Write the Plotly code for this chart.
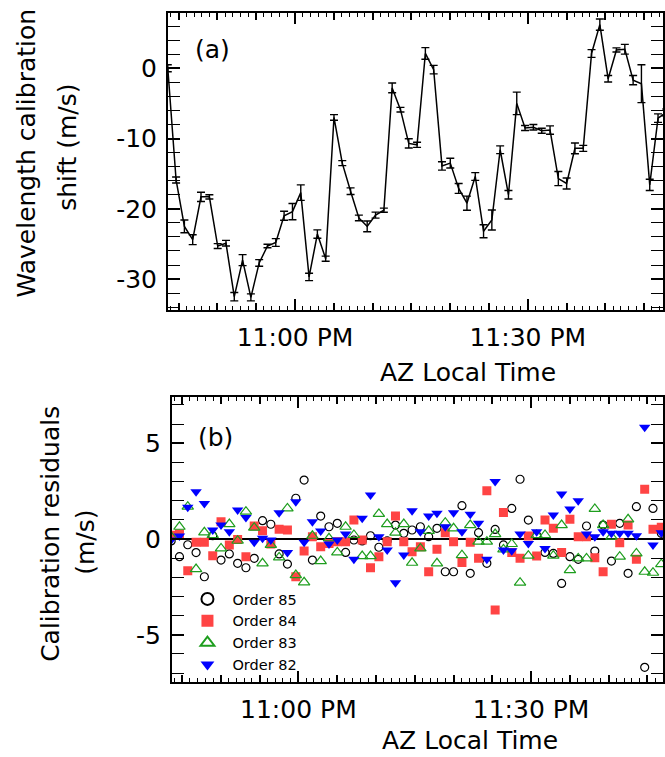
import plotly.graph_objects as go

# ---------------- data ----------------
# observation times, minutes after 10:00 PM (AZ local time)
times = [43.60, 44.67, 45.74, 46.81, 47.88, 48.96, 50.03, 51.10, 52.17, 53.24,
         54.31, 55.38, 56.45, 57.52, 58.59, 59.67, 60.74, 61.81, 62.88, 63.95,
         65.02, 66.09, 67.16, 68.23, 69.30, 70.38, 71.45, 72.52, 73.59, 74.66,
         75.73, 76.80, 77.87, 78.94, 80.01, 81.09, 82.16, 83.23, 84.30, 85.37,
         86.44, 87.51, 88.58, 89.65, 90.72, 91.80, 92.87, 93.94, 95.01, 96.08,
         97.15, 98.22, 99.29, 100.36, 101.43, 102.51, 103.58, 104.65, 105.72, 106.79,
         107.86]

# (a) wavelength calibration shift (m/s) and its uncertainty
shift = [0.0, -15.9, -22.5, -24.4, -18.3, -18.3, -25.3, -24.9, -32.5, -27.3,
         -32.6, -27.7, -25.3, -24.8, -21.0, -20.4, -17.7, -29.7, -23.6, -27.1,
         -7.0, -13.5, -17.5, -21.3, -22.5, -20.9, -20.2, -2.8, -5.9, -10.7,
         -10.9, 2.1, -0.2, -13.9, -13.5, -17.1, -19.2, -15.4, -23.2, -21.6,
         -11.6, -18.0, -5.0, -8.5, -8.4, -8.9, -8.8, -15.7, -16.4, -11.4,
         -11.4, 2.1, 6.2, -1.5, 2.6, 2.7, -1.7, -2.2, -16.6, -7.1,
         -6.3]
shift_err = [0.5, 0.43, 0.9, 0.7, 0.66, 0.3, 0.35, 0.4, 0.6, 0.78,
             0.5, 0.47, 0.25, 0.55, 0.64, 1.16, 1.1, 0.52, 0.6, 0.36,
             0.4, 0.36, 0.47, 0.4, 0.76, 0.43, 0.3, 0.7, 0.33, 0.66,
             0.36, 0.83, 0.6, 0.6, 0.7, 0.7, 1.0, 0.55, 0.93, 1.42,
             0.55, 0.6, 1.6, 0.36, 0.4, 0.36, 0.6, 1.0, 0.78, 0.76,
             0.43, 0.55, 0.8, 0.47, 0.3, 0.7, 0.66, 2.7, 0.8, 0.6,
             0.5]

# (b) calibration residuals (m/s) per echelle order
order85 = [-0.1, -0.92, -0.3, -0.71, -1.97, 0.17, -1.1, -0.78, -1.27, -1.5,
           -1.01, 0.96, 0.77, -0.78, -1.31, 2.13, 3.08, -1.1, 1.2, 0.64,
           0.82, -0.7, -0.05, -0.1, 0.17, -0.43, -0.1, 0.73, 0.3, 0.47,
           0.64, 0.12, 0.56, -1.71, -1.71, 1.74, -1.79, 0.33, -1.27, 0.5,
           -0.31, 1.6, 3.12, 0.99, 0.2, -0.7, -0.75, -2.32, -0.92, -1.06,
           0.68, -0.63, 0.73, -1.15, 0.82, -1.79, 1.69, -6.7, 1.6, 0.3]
order84 = [0.2, 0.26, -1.66, -0.17, -0.17, -0.87, 0.9, -0.31, -0.02, -0.92,
           0.68, 0.43, -0.26, 0.51, 0.47, -1.97, -0.63, 0.12, -0.4, -0.23,
           -0.14, -0.14, 0.99, -0.05, -1.5, -0.92, -0.14, 1.2, -0.14, -0.66,
           -0.4, -1.71, -0.54, 0.33, -0.14, -1.22, -0.17, -1.01, 2.52, -3.7,
           1.39, -0.7, -1.01, 0.16, -0.89, 0.99, 0.56, -0.7, 1.03, 0.12,
           0.12, -0.98, -1.71, 0.77, -0.19, 0.73, -1.06, 2.6, 0.51, 0.61]
order83 = [0.12, 0.64, 1.69, -1.57, 0.35, 0.21, -0.49, 0.78, -0.09, 1.43,
           0.59, -1.27, -0.31, -0.96, 1.6, -1.88, -2.26, 0.17, -1.15, 0.04,
           -0.7, 0.64, 0.21, -0.89, -0.89, 1.31, 0.78, 0.33, 0.78, -1.24,
           -0.49, 0.43, -1.27, 0.85, 0.56, -0.84, 0.73, -0.14, -0.14, 0.26,
           -0.54, -0.26, -2.28, -0.87, 0.21, 0.21, -0.87, 0.73, -1.62, -1.01,
           -1.01, 1.57, 0.73, 0.12, -0.92, 1.03, -0.75, -1.71, -1.76, -1.31]
order82 = [-0.05, 0.16, 1.66, 2.47, 1.86, 0.47, 0.73, 0.38, 1.52, 1.13,
           -0.17, 0.04, -0.05, 1.37, -0.7, 1.95, -0.17, 0.9, 0.42, -0.26,
           -0.05, 0.26, -1.06, 1.08, 2.3, 0.12, -0.57, -2.28, -0.84, 1.48,
           0.38, 1.2, 1.34, 0.64, 1.37, 0.38, 1.29, 0.82, -1.06, 3.0,
           -0.57, -0.61, 0.26, -0.23, 0.38, -0.49, 1.25, 2.35, 1.57, 2.0,
           0.26, 0.12, 0.38, 0.3, 0.3, 0.3, 0.17, 5.84, -0.31, 0.33]

order_names = ["Order 85", "Order 84", "Order 83", "Order 82"]

xtick_vals = [60, 90]
xtick_text = ["11:00 PM", "11:30 PM"]
ya_tick_vals = [-30, -20, -10, 0]
ya_tick_text = ["-30", "-20", "-10", "0"]
yb_tick_vals = [-5, 0, 5]
yb_tick_text = ["-5", "0", "5"]
mid_tick_vals = [45, 50, 55, 65, 70, 75, 80, 85, 95, 100, 105]

# ---------------- figure ----------------
FONT = "DejaVu Sans"
W, H = 665, 757

fig = go.Figure()

fig.add_trace(go.Scatter(
    x=times, y=shift, mode="lines",
    line=dict(color="black", width=1.5),
    error_y=dict(type="data", array=shift_err, visible=True,
                 color="black", thickness=1.4, width=4),
    showlegend=False, xaxis="x", yaxis="y"))

n = len(order85)
styles = [
    dict(symbol="circle-open", size=8, color="black", line=dict(width=1.2, color="black")),
    dict(symbol="square", size=9, color="#FF4444", line=dict(width=0)),
    dict(symbol="triangle-up-open", size=10, color="#1E9E1E", line=dict(width=1.2, color="#1E9E1E")),
    dict(symbol="triangle-down", size=10, color="#0000FF", line=dict(width=0)),
]
for name, vals, st in zip(order_names, [order85, order84, order83, order82], styles):
    fig.add_trace(go.Scatter(
        x=times[:n], y=vals, mode="markers", name=name,
        marker=st, xaxis="x2", yaxis="y2"))

# empty helper traces so the 5-minute tick axes are drawn
fig.add_trace(go.Scatter(x=[None], y=[None], xaxis="x3", yaxis="y", showlegend=False, hoverinfo="skip"))
fig.add_trace(go.Scatter(x=[None], y=[None], xaxis="x4", yaxis="y2", showlegend=False, hoverinfo="skip"))

xa_dom = [168.3 / W, 1.0]
xb_dom = [172.3 / W, 1.0]
ya_dom = [(H - 310) / H, (H - 12.7) / H]
yb_dom = [(H - 681.7) / H, (H - 397.3) / H]
xa_rng = [43.6, 107.43]
xb_rng = [43.68, 107.01]

tickfont = dict(family=FONT, size=25, color="black")

def xaxis_cfg(dom, rng, anchor):
    return dict(domain=dom, range=rng, anchor=anchor,
                tickmode="array", tickvals=xtick_vals, ticktext=xtick_text,
                ticks="inside", ticklen=11, tickwidth=1.6, tickcolor="black",
                showline=True, linecolor="black", linewidth=1.6, mirror="allticks",
                showgrid=False, zeroline=False, tickfont=tickfont,
                ticklabelstandoff=4,
                minor=dict(tickmode="linear", tick0=0, dtick=1, ticks="inside",
                           ticklen=4, tickwidth=1.4, tickcolor="black", showgrid=False))

def xmid_cfg(over, rng, anchor):
    return dict(overlaying=over, range=rng, anchor=anchor,
                tickmode="array", tickvals=mid_tick_vals,
                ticks="inside", ticklen=7, tickwidth=1.5, tickcolor="black",
                showticklabels=False, showline=True, linecolor="black", linewidth=1.6,
                mirror="allticks", showgrid=False, zeroline=False)

fig.update_layout(
    width=W, height=H,
    margin=dict(l=0, r=0, t=0, b=0),
    paper_bgcolor="white", plot_bgcolor="white",
    font=dict(family=FONT, color="black"),
    xaxis=xaxis_cfg(xa_dom, xa_rng, "y"),
    xaxis2=xaxis_cfg(xb_dom, xb_rng, "y2"),
    xaxis3=xmid_cfg("x", xa_rng, "y"),
    xaxis4=xmid_cfg("x2", xb_rng, "y2"),
    yaxis=dict(domain=ya_dom, range=[-34.4, 7.9], anchor="x",
               tickmode="array", tickvals=ya_tick_vals, ticktext=ya_tick_text,
               ticks="inside", ticklen=12, tickwidth=1.6, tickcolor="black",
               showline=True, linecolor="black", linewidth=1.6, mirror="allticks",
               showgrid=False, zeroline=False, tickfont=tickfont, ticklabelstandoff=4,
               minor=dict(tickmode="linear", tick0=0, dtick=2, ticks="inside",
                          ticklen=6, tickwidth=1.4, tickcolor="black", showgrid=False)),
    yaxis2=dict(domain=yb_dom, range=[-7.45, 7.4], anchor="x2",
                tickmode="array", tickvals=yb_tick_vals, ticktext=yb_tick_text,
                ticks="inside", ticklen=12, tickwidth=1.6, tickcolor="black",
                showline=True, linecolor="black", linewidth=1.6, mirror="allticks",
                showgrid=False, zeroline=True, zerolinecolor="black", zerolinewidth=2,
                tickfont=tickfont, ticklabelstandoff=4,
                minor=dict(tickmode="linear", tick0=0, dtick=1, ticks="inside",
                           ticklen=6, tickwidth=1.4, tickcolor="black", showgrid=False)),
    legend=dict(x=183 / W, y=(H - 583) / H, xanchor="left", yanchor="top",
                bgcolor="rgba(0,0,0,0)", borderwidth=0, itemwidth=40,
                itemsizing="constant",
                font=dict(family=FONT, size=14.5, color="black")),
    showlegend=True,
)

ann = dict(xref="paper", yref="paper", showarrow=False,
           font=dict(family=FONT, size=25, color="black"))
labels = [
    ("Wavelength calibration", 27.5, 153, -90),
    ("shift (m/s)", 67, 147, -90),
    ("Calibration residuals", 50, 534, -90),
    ("(m/s)", 85, 542, -90),
    ("AZ Local Time", 469, 372, 0),
    ("AZ Local Time", 471, 740, 0),
    ("(a)", 213, 50, 0),
    ("(b)", 216, 437, 0),
]
for txt, px, py, ang in labels:
    fig.add_annotation(text=txt, x=px / W, y=(H - py) / H, textangle=ang,
                       xanchor="center", yanchor="middle", **ann)

fig.write_html("out.html",
               config={"displayModeBar": False},
               post_script="document.body.style.margin='0px';document.body.style.overflow='hidden';")
